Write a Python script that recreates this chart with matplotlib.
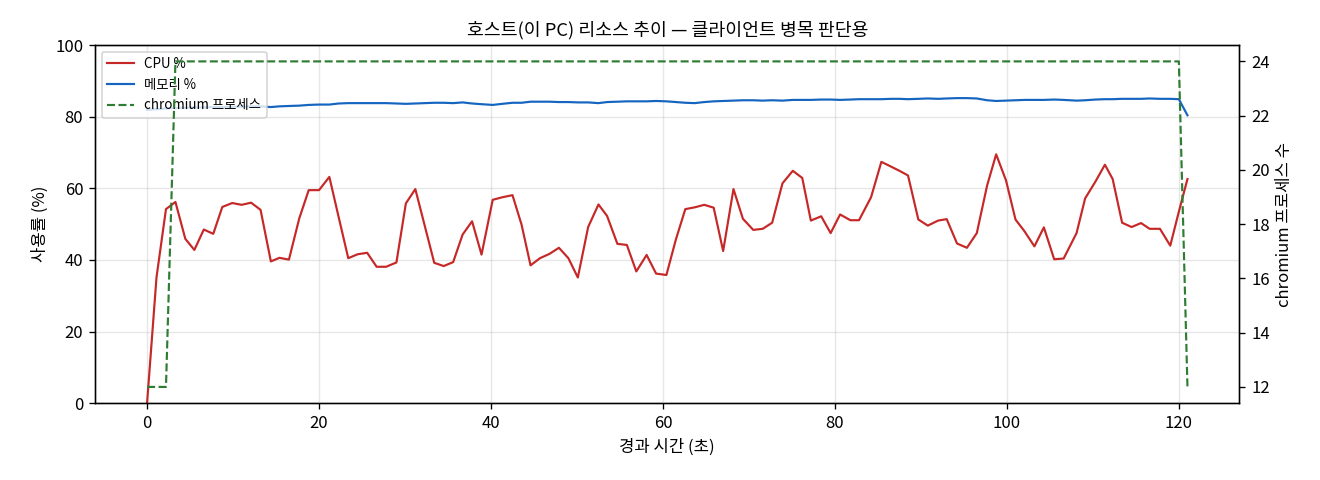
import matplotlib
matplotlib.use("Agg")
import matplotlib.pyplot as plt

plt.rcParams['font.family'] = ['Noto Sans CJK KR', 'DejaVu Sans']
plt.rcParams['axes.unicode_minus'] = False

# elapsed seconds for each sample
elapsed = [0.0, 1.1, 2.2, 3.3, 4.45, 5.5, 6.6, 7.7, 8.75, 9.9,
           11.0, 12.1, 13.2, 14.4, 15.4, 16.5, 17.7, 18.8, 20.0, 21.2,
           22.3, 23.4, 24.5, 25.6, 26.7, 27.8, 29.0, 30.1, 31.2, 32.3,
           33.4, 34.5, 35.6, 36.7, 37.8, 38.9, 40.2, 41.3, 42.5, 43.55,
           44.6, 45.7, 46.8, 47.9, 49.0, 50.1, 51.3, 52.5, 53.5, 54.7,
           55.8, 56.9, 58.1, 59.2, 60.4, 61.5, 62.6, 63.7, 64.8, 65.9,
           67.0, 68.2, 69.3, 70.5, 71.6, 72.7, 73.9, 75.1, 76.2, 77.2,
           78.4, 79.5, 80.6, 81.8, 82.8, 84.2, 85.4, 86.5, 87.5, 88.5,
           89.7, 90.8, 92.0, 93.0, 94.2, 95.35, 96.5, 97.7, 98.75, 99.9,
           101.0, 102.05, 103.2, 104.3, 105.5, 106.6, 108.1, 109.1, 110.3, 111.4,
           112.3, 113.4, 114.5, 115.6, 116.6, 117.8, 119.0, 120.0, 121.0]

cpu = [0.0, 35.2, 54.2, 56.2, 45.9, 42.8, 48.5, 47.3, 54.8, 55.9,
       55.4, 56.0, 54.0, 39.6, 40.6, 40.1, 51.6, 59.5, 59.5, 63.2,
       51.8, 40.5, 41.6, 42.0, 38.1, 38.1, 39.3, 55.8, 59.8, 49.5,
       39.2, 38.3, 39.4, 47.1, 50.8, 41.5, 56.8, 57.5, 58.1, 49.9,
       38.5, 40.5, 41.7, 43.4, 40.5, 35.1, 49.2, 55.5, 52.3, 44.5,
       44.2, 36.8, 41.4, 36.2, 35.8, 45.7, 54.2, 54.7, 55.4, 54.6,
       42.5, 59.8, 51.5, 48.4, 48.7, 50.4, 61.4, 64.9, 62.9, 51.0,
       52.2, 47.5, 52.7, 51.1, 51.1, 57.5, 67.4, 66.1, 64.9, 63.6,
       51.3, 49.6, 51.0, 51.4, 44.6, 43.4, 47.5, 60.8, 69.5, 62.2,
       51.3, 48.0, 43.8, 49.1, 40.2, 40.4, 47.5, 57.2, 61.9, 66.6,
       62.6, 50.4, 49.2, 50.3, 48.7, 48.7, 44.0, 53.5, 62.6]

mem = [81.9, 82.1, 82.3, 82.4, 82.5, 82.6, 82.6, 82.7, 82.7, 82.8,
       82.8, 82.9, 82.9, 82.7, 82.9, 83.0, 83.1, 83.3, 83.4, 83.4,
       83.7, 83.8, 83.8, 83.8, 83.8, 83.8, 83.7, 83.6, 83.7, 83.8,
       83.9, 83.9, 83.8, 84.0, 83.7, 83.5, 83.3, 83.6, 83.9, 83.9,
       84.2, 84.2, 84.2, 84.1, 84.1, 84.0, 84.0, 83.8, 84.1, 84.2,
       84.3, 84.3, 84.3, 84.4, 84.3, 84.1, 83.9, 83.8, 84.1, 84.3,
       84.4, 84.5, 84.6, 84.6, 84.5, 84.6, 84.5, 84.7, 84.7, 84.7,
       84.8, 84.8, 84.7, 84.8, 84.9, 84.9, 84.9, 85.0, 85.0, 84.9,
       85.0, 85.1, 85.0, 85.1, 85.2, 85.2, 85.1, 84.6, 84.4, 84.5,
       84.6, 84.7, 84.7, 84.7, 84.8, 84.7, 84.5, 84.6, 84.8, 84.9,
       84.9, 85.0, 85.0, 85.0, 85.1, 85.0, 85.0, 84.9, 80.4]

procs = [12, 12, 12, 24, 24, 24, 24, 24, 24, 24,
         24, 24, 24, 24, 24, 24, 24, 24, 24, 24,
         24, 24, 24, 24, 24, 24, 24, 24, 24, 24,
         24, 24, 24, 24, 24, 24, 24, 24, 24, 24,
         24, 24, 24, 24, 24, 24, 24, 24, 24, 24,
         24, 24, 24, 24, 24, 24, 24, 24, 24, 24,
         24, 24, 24, 24, 24, 24, 24, 24, 24, 24,
         24, 24, 24, 24, 24, 24, 24, 24, 24, 24,
         24, 24, 24, 24, 24, 24, 24, 24, 24, 24,
         24, 24, 24, 24, 24, 24, 24, 24, 24, 24,
         24, 24, 24, 24, 24, 24, 24, 24, 12]

fig, ax = plt.subplots(figsize=(11, 4), dpi=120)
fig.subplots_adjust(left=0.072, right=0.939, bottom=0.16, top=0.906)

l1, = ax.plot(elapsed, cpu, color='#c62828', lw=1.3, label='CPU %')
l2, = ax.plot(elapsed, mem, color='#1565c0', lw=1.3, label='메모리 %')
ax.set_ylim(0, 100)
ax.set_xlabel('경과 시간 (초)')
ax.set_ylabel('사용률 (%)')
ax.grid(True, alpha=0.3)

ax2 = ax.twinx()
l3, = ax2.plot(elapsed, procs, color='#2e7d32', lw=1.3, ls='--', label='chromium 프로세스')
ax2.set_ylabel('chromium 프로세스 수')

ax.legend([l1, l2, l3], [l1.get_label(), l2.get_label(), l3.get_label()],
          loc='upper left', fontsize=8)
ax.set_title('호스트(이 PC) 리소스 추이 — 클라이언트 병목 판단용', fontsize=11)

fig.savefig('out.png')
